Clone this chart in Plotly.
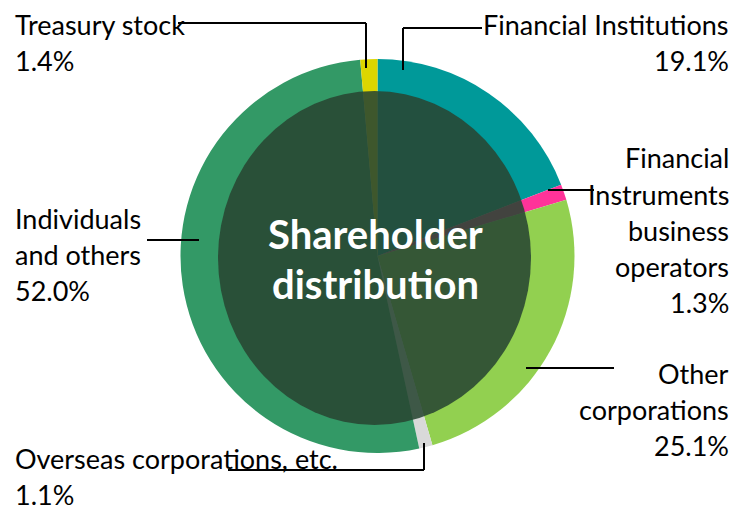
import plotly.graph_objects as go

# ---- data ----
categories = ["Financial Institutions", "Financial Instruments business operators",
              "Other corporations", "Overseas corporations, etc.",
              "Individuals and others", "Treasury stock"]
shares = [19.1, 1.3, 25.1, 1.1, 52.0, 1.4]
slice_colors = ["#009999", "#FF3399", "#92D050", "#D9D9D9", "#339966", "#DDD600"]
label_lines = [["Financial Institutions"],
               ["Financial", "Instruments", "business", "operators"],
               ["Other", "corporations"],
               ["Overseas corporations, etc."],
               ["Individuals", "and others"],
               ["Treasury stock"]]
center_title = ["Shareholder", "distribution"]

# page has an 8px body margin; size figure to fit the 744x523 window
OFF = 8
W, H = 744 - 2 * OFF, 523 - 2 * OFF
FONT = "Lato"
FS = 27


def px(x):
    return (x - OFF) / W


def py(y):
    return 1 - (y - OFF) / H


cx, cy, r = 377.5, 256, 197

fig = go.Figure(go.Pie(
    labels=categories, values=shares, sort=False, direction="clockwise",
    rotation=0, marker=dict(colors=slice_colors, line=dict(width=0)),
    textinfo="none", hoverinfo="label+percent", showlegend=False,
    domain=dict(x=[px(cx - r), px(cx + r)], y=[py(cy + r), py(cy - r)]),
))

shapes = [dict(type="circle", xref="paper", yref="paper",
               x0=px(218), x1=px(531), y0=py(425), y1=py(91),
               fillcolor="rgba(40,70,50,0.88)", line=dict(width=0), layer="above")]

# label placement: (anchor x, x-anchor, first line centre y)
placements = [(731, "right", 25),
              (731, "right", 158),
              (731, "right", 373),
              (13, "left", 458),
              (13, "left", 218),
              (13, "left", 25)]
step = 36
annotations = []
for lines, val, (ax, anc, y0) in zip(label_lines, shares, placements):
    all_lines = lines + [f"{val:.1f}%"]
    for i, t in enumerate(all_lines):
        annotations.append(dict(text=t, x=px(ax), y=py(y0 + i * step), xref="paper", yref="paper",
                                xanchor=anc, yanchor="middle", showarrow=False,
                                font=dict(family=FONT, size=FS, color="#000000")))

for i, t in enumerate(center_title):
    annotations.append(dict(text=f"<b>{t}</b>", x=px(375), y=py(234 + i * 50), xref="paper", yref="paper",
                            xanchor="center", yanchor="middle", showarrow=False,
                            font=dict(family=FONT, size=40, color="#FFFFFF")))

# leader lines (polylines in pixel coords)
leaders = [
    [(403, 70), (403, 28), (482, 28)],
    [(548, 190), (594, 190)],
    [(526, 368), (614, 368)],
    [(424, 443), (424, 470), (228, 470)],
    [(147, 240), (199, 240)],
    [(366, 68), (366, 23), (178, 23)],
]
for pts in leaders:
    for (x0, y0), (x1, y1) in zip(pts[:-1], pts[1:]):
        shapes.append(dict(type="line", xref="paper", yref="paper",
                           x0=px(x0), y0=py(y0), x1=px(x1), y1=py(y1),
                           line=dict(color="#000000", width=2), layer="above"))

fig.update_layout(width=W, height=H, margin=dict(l=0, r=0, t=0, b=0),
                  paper_bgcolor="#FFFFFF", plot_bgcolor="#FFFFFF",
                  shapes=shapes, annotations=annotations)

fig.write_html("out.html")
